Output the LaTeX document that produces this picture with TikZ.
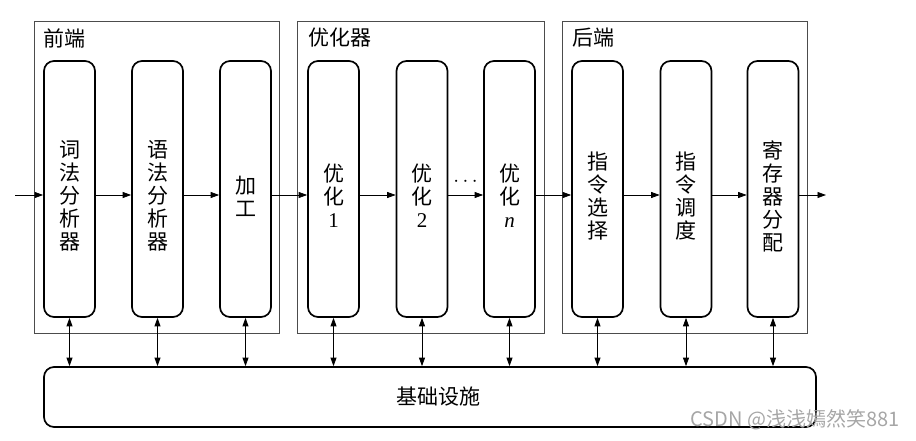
\documentclass[tikz,border=0pt]{standalone}
\usepackage{fontspec}
\setmainfont{Liberation Serif}
\newfontfamily\cjk{Noto Sans CJK SC}
\usetikzlibrary{arrows.meta}
\tikzset{
  cjkfont/.style={font=\cjk\fontsize{21}{23}\selectfont},
  group/.style={draw=black!70, line width=0.9pt, minimum width=245pt, minimum height=312pt, inner sep=0pt},
  stage/.style={draw, line width=1.7pt, rounded corners=10pt, minimum width=51pt, minimum height=256pt, inner sep=0pt},
  stagetext/.style={cjkfont, align=center, yshift=-7pt},
  title/.style={cjkfont, anchor=west, inner sep=0pt},
  flow/.style={line width=0.8pt, -{Triangle[length=8.5pt,width=6pt]}},
  link/.style={line width=0.8pt, {Triangle[length=8.5pt,width=6pt]}-{Triangle[length=8.5pt,width=6pt]}},
}
\begin{document}
\begin{tikzpicture}[x=1pt,y=-1pt]
\useasboundingbox (0,0) rectangle (916,441);

% groups
\node[group] (fe) at (156.5,177) {};
\node[group, minimum width=247pt] (opt) at (420.5,177) {};
\node[group] (be) at (684.5,177) {};
\node[title] (tfe) at (43,38) {前端};
\node[title] (topt) at (308,38) {优化器};
\node[title] (tbe) at (572,38) {后端};

% stages
\node[stage, label={[stagetext]center:词\\法\\分\\析\\器}] (b1) at (69.5,189) {};
\node[stage, label={[stagetext]center:语\\法\\分\\析\\器}] (b2) at (157.5,189) {};
\node[stage, label={[stagetext]center:加\\工}] (b3) at (245.5,189) {};
\node[stage, label={[stagetext]center:优\\化\\\rmfamily 1}] (b4) at (333.5,189) {};
\node[stage, label={[stagetext]center:优\\化\\\rmfamily 2}] (b5) at (422,189) {};
\node[stage, label={[stagetext]center:优\\化\\\rmfamily\itshape n}] (b6) at (509.5,189) {};
\node[stage, label={[stagetext]center:指\\令\\选\\择}] (b7) at (597.5,189) {};
\node[stage, label={[stagetext]center:指\\令\\调\\度}] (b8) at (686,189) {};
\node[stage, label={[stagetext]center:寄\\存\\器\\分\\配}] (b9) at (773,189) {};

\node[font=\fontsize{20}{23}\selectfont, inner sep=0pt] (dots) at (465.5,182) {$\cdots$};

% infrastructure
\node[draw, line width=1.7pt, rounded corners=10pt, minimum width=772pt, minimum height=60pt, inner sep=0pt,
      label={[cjkfont, xshift=8pt]center:基础设施}] (infra) at (430,397) {};

% flow arrows
\coordinate (in) at (15,195);
\coordinate (out) at (826,195);
\draw[flow] (in) -- (in -| b1.west);
\foreach \a/\b in {b1/b2,b2/b3,b3/b4,b4/b5,b5/b6,b6/b7,b7/b8,b8/b9}{
  \draw[flow] ([yshift=-6pt]\a.east) -- ([yshift=-6pt]\b.west);
}
\draw[flow] ([yshift=-6pt]b9.east) -- (out);

% links to infrastructure
\foreach \b in {b1,b2,b3,b4,b5,b6,b7,b8,b9}{
  \draw[link] (\b.south) -- (\b.south |- infra.north);
}

% watermark
\node[font=\cjk\fontsize{20}{22}\selectfont, text=black!35, anchor=east, inner sep=0pt] (wm) at (900,420) {CSDN @浅浅嫣然笑881};
\end{tikzpicture}
\end{document}
